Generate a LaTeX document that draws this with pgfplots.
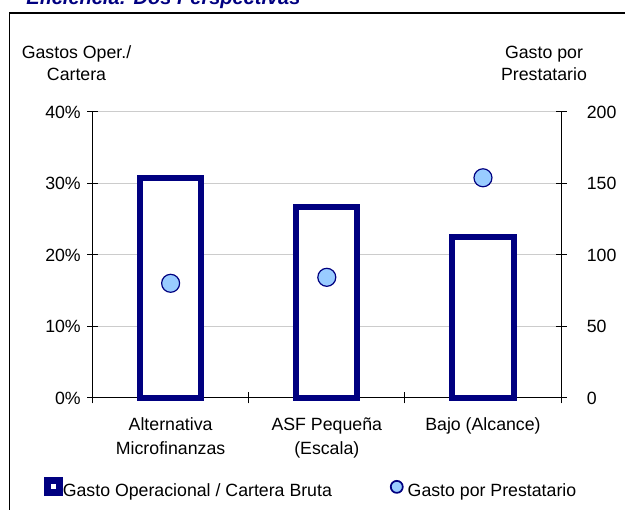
\documentclass[border=0pt]{standalone}
\usepackage{pgfplots}
\pgfplotsset{compat=1.18}
\usepackage{fontspec}
\setmainfont{Liberation Sans}
\definecolor{navybar}{RGB}{0,0,128}
\definecolor{dotblue}{RGB}{153,204,255}
\begin{document}
\begin{tikzpicture}[font=\fontsize{13.3}{18}\selectfont]
\pgfplotsset{
  chart/.style={
    scale only axis, width=351.4pt, height=214.5pt,
    at={(69.4pt,84pt)}, anchor=south west,
    xmin=0.5, xmax=3.5,
    axis line style={-, line width=0.75pt, black},
    tick align=center, major tick length=8.25pt,
    tick style={black, line width=0.75pt},
    /pgf/number format/assume math mode=true,
  }
}
\begin{axis}[chart,
  ymin=0, ymax=40, clip=false,
  axis x line*=bottom, axis y line*=left,
  ymajorgrids, grid style={gray!40, line width=0.75pt},
  ytick={0,10,20,30,40}, yticklabels={0\%,10\%,20\%,30\%,40\%},
  yticklabel style={inner sep=0pt, xshift=-4.5pt},
  xtick={0.5,1.5,2.5,3.5}, xticklabels={},
  extra x ticks={1,2,3},
  extra x tick labels={{Alternativa\\Microfinanzas},{ASF Pequeña\\(Escala)},{Bajo (Alcance)}},
  extra x tick style={major tick length=0pt},
  xticklabel style={inner sep=0pt, align=center, yshift=-14.6pt},
]
\addplot[ybar, bar width=46pt, draw=navybar, line width=4.5pt, fill=white]
  coordinates {(1,30.7) (2,26.7) (3,22.5)};
\end{axis}
\begin{axis}[chart,
  ymin=0, ymax=200,
  axis x line=none, axis y line*=right,
  ytick={0,50,100,150,200},
  yticklabel style={inner sep=0pt, xshift=15pt},
  legend columns=2,
  legend style={at={(-0.1035,-0.2762)}, anchor=north west, draw=none, fill=none,
    inner sep=0pt, cells={anchor=west}, nodes={inner sep=0.5pt},
    /tikz/every even column/.append style={column sep=43pt}},
]
\addlegendimage{legend image code/.code={
  \fill[navybar] (0pt,-2.5pt) rectangle (13pt,10.5pt);
  \fill[white] (5pt,2.5pt) rectangle (8pt,5.5pt);}}
\addlegendentry{Gasto Operacional / Cartera Bruta}
\addplot[only marks, mark=*, mark size=6.75pt,
  mark options={draw=navybar, fill=dotblue, line width=0.9pt},
  legend image code/.code={
    \draw[navybar, line width=1.3pt, fill=dotblue] (4.5pt,3.5pt) circle (4.5pt);
    \path (0pt,0pt) (12pt,0pt);}]
  coordinates {(1,80.2) (2,84.4) (3,154)};
\addlegendentry{Gasto por Prestatario}
\end{axis}
\draw[line width=1pt] (7.1pt,-10pt) -- (7.1pt,372.75pt) -- (480pt,372.75pt);
\node[anchor=base west, inner sep=0pt, text=navybar,
  font=\fontsize{15}{15}\selectfont\bfseries\itshape] at (19.5pt,379pt) {Eficiencia: Dos Perspectivas};
\node[anchor=base, inner sep=0pt] at (57.4pt,338.6pt) {Gastos Oper./};
\node[anchor=base, inner sep=0pt] at (57.4pt,321.75pt) {Cartera};
\node[anchor=base, inner sep=0pt] at (408pt,338.6pt) {Gasto por};
\node[anchor=base, inner sep=0pt] at (408pt,321.75pt) {Prestatario};
\pgfresetboundingbox
\useasboundingbox (0pt,0pt) rectangle (468.75pt,382.5pt);
\end{tikzpicture}
\end{document}
